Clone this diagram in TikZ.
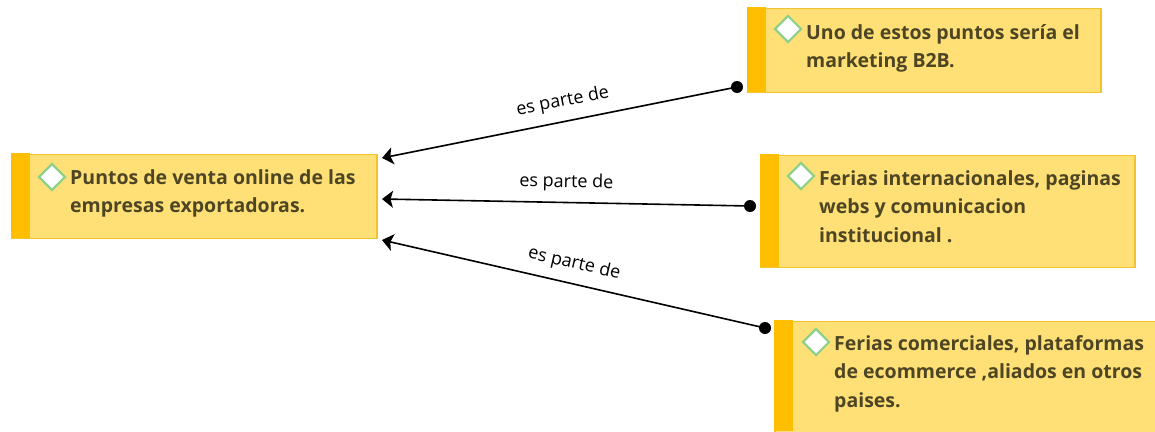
\documentclass[tikz,border=0pt]{standalone}
\usepackage{fontspec}
\setmainfont{Open Sans}
\newfontfamily\lblfont{Open Sans}
\usetikzlibrary{arrows.meta,shapes.geometric}
\definecolor{boxfill}{HTML}{FEE077}
\definecolor{boxline}{HTML}{F2C230}
\definecolor{stripe}{HTML}{FFBF00}
\definecolor{txt}{HTML}{4D4524}
\definecolor{dia}{HTML}{8FD08A}
\tikzset{
  x=1pt,y=-1pt,
  boxbody/.style={draw=boxline,line width=1.8pt,fill=boxfill,rectangle,anchor=north west,inner sep=0pt},
  stripebar/.style={fill=stripe,draw=none,rectangle,anchor=north west,inner sep=0pt},
  mark diamond/.style={diamond,draw=dia,fill=white,line width=2.2pt,inner sep=0pt,minimum width=27pt,minimum height=27pt},
  itemtext/.style={anchor=north west,inner sep=0pt,text=txt,font=\bfseries\fontsize{19.5pt}{28.6pt}\selectfont,align=left},
  dotend/.style={circle,fill=black,draw=none,inner sep=0pt,minimum size=12pt},
  link/.style={draw=black,line width=1.6pt,{Stealth[length=11pt,width=17pt,inset=2.5pt]}-},
  linklabel/.style={font=\lblfont\fontsize{18pt}{20pt}\selectfont,text=black,inner sep=0pt}
}
\begin{document}
\begin{tikzpicture}
\useasboundingbox (0,0) rectangle (1155,431);
% boxes
\node[boxbody,minimum width=365pt,minimum height=84pt] (a) at (11,153.5) {};
\node[stripebar,minimum width=19pt,minimum height=85pt] (as) at (11,153) {};
\node[mark diamond] (ad) at (52,177) {};
\node[itemtext] (at) at (70,169) {Puntos de venta online de las\\empresas exportadoras.};
\node[boxbody,minimum width=353pt,minimum height=84pt] (b) at (747,7.5) {};
\node[stripebar,minimum width=19pt,minimum height=85pt] (bs) at (747,7) {};
\node[mark diamond] (bd) at (788,29) {};
\node[itemtext] (bt) at (806,24) {Uno de estos puntos sería el\\marketing B2B.};
\node[boxbody,minimum width=374pt,minimum height=112pt] (c) at (760,154.5) {};
\node[stripebar,minimum width=19pt,minimum height=113pt] (cs) at (760,154) {};
\node[mark diamond] (cd) at (801,176) {};
\node[itemtext] (ct) at (819,170) {Ferias internacionales, paginas\\webs y comunicacion\\institucional .};
\node[boxbody,minimum width=382pt,minimum height=112pt] (d) at (774,320.5) {};
\node[stripebar,minimum width=19pt,minimum height=111pt] (ds) at (774,320) {};
\node[mark diamond] (dd) at (816,342) {};
\node[itemtext] (dt) at (834,335) {Ferias comerciales, plataformas\\de ecommerce ,aliados en otros\\paises.};
% connector ends
\node[dotend] (p1) at (737,87) {};
\node[dotend] (p2) at (750,206) {};
\node[dotend] (p3) at (765,328) {};
\coordinate (q1) at (382,158);
\coordinate (q2) at (382,199);
\coordinate (q3) at (382,240);
\draw[link] (q1) -- node[pos=0.52,sloped,above=10pt,linklabel] {es parte de} (p1.center);
\draw[link] (q2) -- node[pos=0.5,sloped,above=10pt,linklabel] {es parte de} (p2.center);
\draw[link] (q3) -- node[pos=0.49,sloped,above=10pt,linklabel] {es parte de} (p3.center);
\end{tikzpicture}
\end{document}
